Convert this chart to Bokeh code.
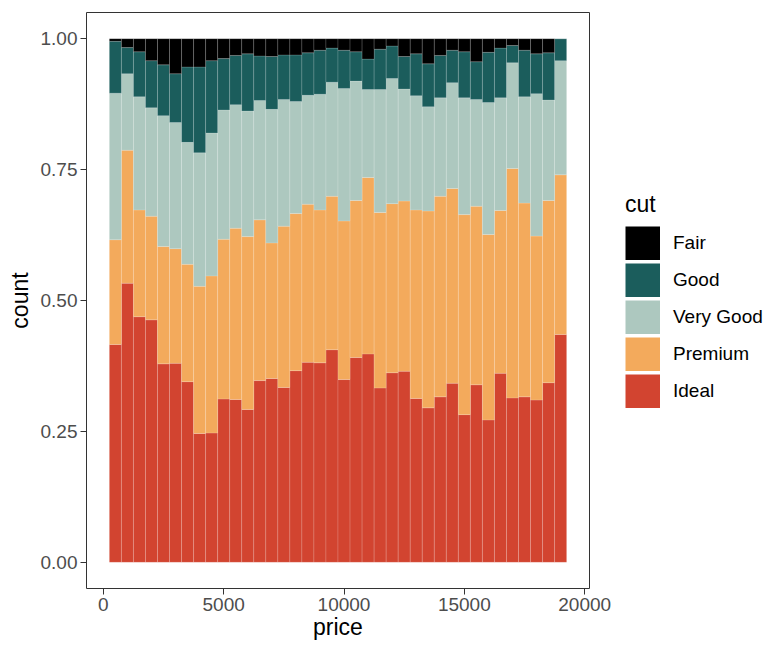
from bokeh.plotting import figure
from bokeh.layouts import row
from bokeh.models import (ColumnDataSource, Range1d, FixedTicker, NumeralTickFormatter,
                          Legend, LegendItem)
from bokeh.embed import file_html
from bokeh.resources import INLINE

# ---- data (proportion of each cut within each price bin, binwidth 500) ----
price_bins = [500, 1000, 1500, 2000, 2500, 3000, 3500, 4000, 4500, 5000,
              5500, 6000, 6500, 7000, 7500, 8000, 8500, 9000, 9500, 10000,
              10500, 11000, 11500, 12000, 12500, 13000, 13500, 14000, 14500, 15000,
              15500, 16000, 16500, 17000, 17500, 18000, 18500, 19000]

ideal = [0.416, 0.533, 0.469, 0.463, 0.379, 0.380, 0.345, 0.246, 0.247, 0.312,
         0.311, 0.292, 0.347, 0.351, 0.334, 0.366, 0.382, 0.381, 0.406, 0.349,
         0.391, 0.398, 0.333, 0.362, 0.365, 0.313, 0.295, 0.316, 0.342, 0.282,
         0.339, 0.272, 0.361, 0.314, 0.316, 0.310, 0.343, 0.435]
premium = [0.200, 0.254, 0.204, 0.198, 0.224, 0.219, 0.224, 0.281, 0.300, 0.305,
           0.327, 0.330, 0.307, 0.259, 0.308, 0.300, 0.302, 0.292, 0.293, 0.303,
           0.300, 0.337, 0.335, 0.323, 0.325, 0.360, 0.376, 0.383, 0.372, 0.382,
           0.341, 0.354, 0.311, 0.438, 0.370, 0.313, 0.348, 0.305]
very_good = [0.280, 0.146, 0.216, 0.207, 0.250, 0.241, 0.233, 0.255, 0.273, 0.247,
             0.236, 0.240, 0.228, 0.255, 0.242, 0.214, 0.208, 0.221, 0.218, 0.253,
             0.228, 0.168, 0.235, 0.239, 0.214, 0.218, 0.199, 0.188, 0.202, 0.223,
             0.204, 0.252, 0.215, 0.202, 0.203, 0.272, 0.192, 0.218]
good = [0.099, 0.050, 0.086, 0.090, 0.097, 0.093, 0.144, 0.164, 0.138, 0.098,
        0.094, 0.109, 0.085, 0.101, 0.085, 0.089, 0.081, 0.084, 0.065, 0.073,
        0.056, 0.058, 0.077, 0.062, 0.062, 0.080, 0.082, 0.081, 0.062, 0.088,
        0.072, 0.096, 0.095, 0.033, 0.089, 0.076, 0.090, 0.042]
fair = [0.005, 0.017, 0.025, 0.042, 0.050, 0.067, 0.054, 0.054, 0.042, 0.038,
        0.032, 0.029, 0.033, 0.034, 0.031, 0.031, 0.027, 0.022, 0.018, 0.022,
        0.025, 0.039, 0.020, 0.014, 0.034, 0.029, 0.048, 0.032, 0.022, 0.025,
        0.044, 0.026, 0.018, 0.013, 0.022, 0.029, 0.027, 0.000]

cut_keys = ["ideal", "premium", "very_good", "good", "fair"]
cut_labels = ["Ideal", "Premium", "Very Good", "Good", "Fair"]
cut_colors = ["#D24430", "#F3AA5C", "#ADC8BF", "#1B5D5C", "#000000"]

x_ticks = [0, 5000, 10000, 15000, 20000]
y_ticks = [0.0, 0.25, 0.5, 0.75, 1.0]

FONT = "Liberation Sans"
H = 646
W_MAIN = 620

source = ColumnDataSource(dict(price=price_bins, ideal=ideal, premium=premium,
                               very_good=very_good, good=good, fair=fair))

# ---------------- main plot ----------------
p = figure(width=W_MAIN, height=H, output_backend="svg", toolbar_location=None,
           x_range=Range1d(-700, 20200), y_range=Range1d(-0.05, 1.05),
           min_border_left=86, min_border_right=W_MAIN - 589, min_border_top=12,
           min_border_bottom=H - 588, x_axis_label="price", y_axis_label="count")

p.grid.visible = False
p.outline_line_color = "#333333"
p.outline_line_width = 1
p.background_fill_color = "white"
p.border_fill_color = "white"

renderers = p.vbar_stack(cut_keys, x="price", width=500, source=source,
                         fill_color=cut_colors, line_color="white",
                         line_alpha=0.3, line_width=0.5)

for ax in (p.xaxis[0], p.yaxis[0]):
    ax.axis_line_color = None
    ax.major_tick_line_color = "#333333"
    ax.minor_tick_line_color = None
    ax.major_tick_in = 0
    ax.major_tick_out = 6
    ax.major_label_text_font = FONT
    ax.major_label_text_font_size = "19px"
    ax.major_label_text_color = "#4D4D4D"
    ax.axis_label_text_font = FONT
    ax.axis_label_text_font_size = "23px"
    ax.axis_label_text_font_style = "normal"
    ax.axis_label_text_color = "black"
    ax.major_label_standoff = 3

p.xaxis.ticker = FixedTicker(ticks=x_ticks)
p.xaxis.formatter = NumeralTickFormatter(format="0")
p.xaxis.axis_label_standoff = 0
p.yaxis.ticker = FixedTicker(ticks=y_ticks)
p.yaxis.formatter = NumeralTickFormatter(format="0.00")
p.yaxis.axis_label_standoff = 5

# ---------------- legend panel ----------------
lg = figure(width=771 - W_MAIN, height=H, output_backend="svg", toolbar_location=None,
            x_axis_type=None, y_axis_type=None, min_border=0,
            x_range=Range1d(0, 1), y_range=Range1d(0, 1))
lg.grid.visible = False
lg.outline_line_color = None
lg.background_fill_color = "white"
lg.border_fill_color = "white"

# key swatches: thick butt-capped lines (their data lies outside this panel's range)
key_renderers = {}
for key, lab, col in zip(cut_keys, cut_labels, cut_colors):
    key_renderers[lab] = lg.line(x="price", y=key, source=source, line_color=col,
                                 line_width=34, line_cap="butt")

items = [LegendItem(label=lab, renderers=[key_renderers[lab]])
         for lab in ["Fair", "Good", "Very Good", "Premium", "Ideal"]]
legend = Legend(items=items, location=(625 - W_MAIN, 180), title="cut",
                glyph_width=35, glyph_height=34, label_height=34, spacing=3,
                label_standoff=13, padding=0, margin=0,
                border_line_color=None, background_fill_alpha=0,
                title_text_font=FONT, title_text_font_size="23px",
                title_text_font_style="normal", title_text_color="black",
                title_standoff=8,
                label_text_font=FONT, label_text_font_size="19px",
                label_text_color="black")
lg.add_layout(legend)

layout = row(p, lg)
open("out.html", "w").write(file_html(layout, INLINE))
